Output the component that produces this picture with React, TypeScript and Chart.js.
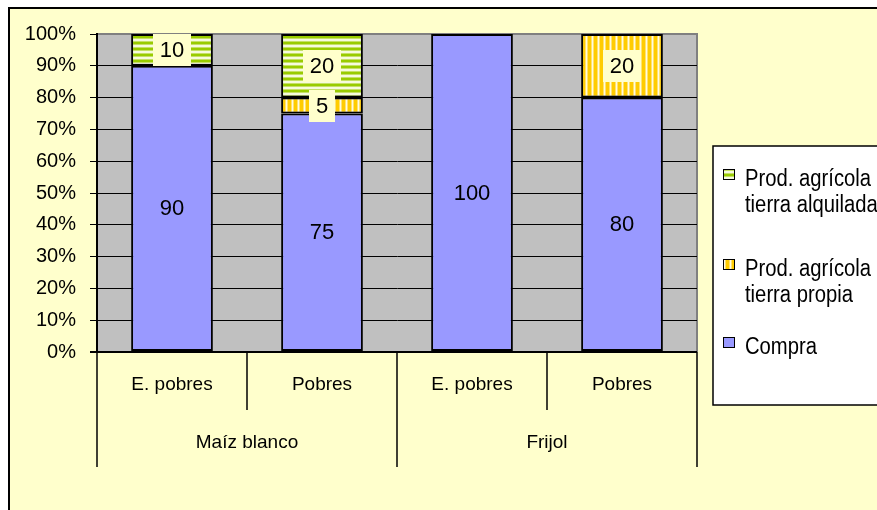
import React, { useEffect, useRef } from "react";
import { Chart, registerables } from "chart.js";

Chart.register(...registerables);

// ---- data ----
const categories = ["E. pobres", "Pobres", "E. pobres", "Pobres"];
const groups = ["Maíz blanco", "Frijol"];
const groupSizes = [2, 2];
const compra = [90, 75, 100, 80];
const prodPropia = [0, 5, 0, 20];
const prodAlquilada = [10, 20, 0, 0];
const seriesNames = ["Compra", "Prod. agrícola tierra propia", "Prod. agrícola tierra alquilada"];
const legendLines = [["Compra"], ["Prod. agrícola", "tierra propia"], ["Prod. agrícola", "tierra alquilada"]];
const yMax = 100;
const yStep = 10;

// ---- style ----
const FONT = '"Liberation Sans", Arial, sans-serif';
const BLUE = "#9999FF";
const BG = "#FFFFCC";
const PLOT = "#C0C0C0";

function makePattern(kind: "h" | "v"): CanvasPattern | string {
  const c = document.createElement("canvas");
  c.width = 6;
  c.height = 6;
  const g = c.getContext("2d");
  if (!g) return kind === "h" ? "#99CC00" : "#FFCC00";
  const cols =
    kind === "h"
      ? ["#99CC00", "#99CC00", "#C6E066", "#F6FBDD", "#F6FBDD", "#C6E066"]
      : ["#FFCC00", "#FFCC00", "#FFCC00", "#FFE270", "#FFFBE0", "#FFE270"];
  for (let i = 0; i < 6; i++) {
    g.fillStyle = cols[i];
    if (kind === "h") g.fillRect(0, i, 6, 1);
    else g.fillRect(i, 0, 1, 6);
  }
  const p = g.createPattern(c, "repeat");
  return p || (kind === "h" ? "#99CC00" : "#FFCC00");
}

export default function App() {
  const ref = useRef<HTMLCanvasElement>(null);

  useEffect(() => {
    const canvas = ref.current;
    if (!canvas) return;
    const green = makePattern("h");
    const yellow = makePattern("v");
    const fills: any[] = [BLUE, yellow, green];
    const values = [compra, prodPropia, prodAlquilada];
    const labelBoxed = [false, true, true];
    const legendTops = [337, 259, 169];

    const decor = {
      id: "decor",
      beforeDraw(chart: any) {
        const ctx = chart.ctx as CanvasRenderingContext2D;
        const a = chart.chartArea;
        ctx.save();
        ctx.fillStyle = "#FFFFFF";
        ctx.fillRect(0, 0, chart.width, chart.height);
        ctx.fillStyle = BG;
        ctx.fillRect(9, 8, chart.width + 20, chart.height + 20);
        ctx.strokeStyle = "#000";
        ctx.lineWidth = 2;
        ctx.strokeRect(9, 8, chart.width + 50, chart.height + 50);
        ctx.fillStyle = PLOT;
        ctx.fillRect(a.left, a.top, a.right - a.left, a.bottom - a.top);
        ctx.strokeStyle = "#808080";
        ctx.lineWidth = 2;
        ctx.beginPath();
        ctx.moveTo(a.left, a.top);
        ctx.lineTo(a.right, a.top);
        ctx.lineTo(a.right, a.bottom);
        ctx.stroke();
        ctx.restore();
      },
      afterDatasetsDraw(chart: any) {
        const ctx = chart.ctx as CanvasRenderingContext2D;
        ctx.save();
        ctx.font = `22px ${FONT}`;
        ctx.textAlign = "center";
        ctx.textBaseline = "middle";
        chart.data.datasets.forEach((ds: any, di: number) => {
          const meta = chart.getDatasetMeta(di);
          meta.data.forEach((el: any, i: number) => {
            const v = ds.data[i];
            if (!v) return;
            const p = el.getProps(["x", "y", "base"], true);
            const cy = (p.y + p.base) / 2;
            const txt = String(v);
            if (labelBoxed[di]) {
              const w = ctx.measureText(txt).width + 14;
              ctx.fillStyle = BG;
              ctx.fillRect(Math.round(p.x - w / 2), Math.round(cy - 16), Math.round(w), 32);
            }
            ctx.fillStyle = "#000";
            ctx.fillText(txt, p.x, cy + 1);
          });
        });
        ctx.restore();
      },
      afterDraw(chart: any) {
        const ctx = chart.ctx as CanvasRenderingContext2D;
        const a = chart.chartArea;
        const x = chart.scales.x;
        ctx.save();
        // multi-level category axis
        ctx.strokeStyle = "#000";
        ctx.lineWidth = 1.5;
        const groupStarts: number[] = [];
        let acc = 0;
        groupSizes.forEach((s) => {
          groupStarts.push(acc);
          acc += s;
        });
        for (let i = 0; i <= categories.length; i++) {
          const bx = Math.round(x.getPixelForValue(i - 0.5));
          const long = i === categories.length || groupStarts.includes(i);
          ctx.beginPath();
          ctx.moveTo(bx, a.bottom);
          ctx.lineTo(bx, a.bottom + (long ? 115 : 58));
          ctx.stroke();
        }
        ctx.fillStyle = "#000";
        ctx.textAlign = "center";
        ctx.textBaseline = "middle";
        ctx.font = `19px ${FONT}`;
        categories.forEach((c, i) => {
          ctx.fillText(c, x.getPixelForValue(i), a.bottom + 33);
        });
        groups.forEach((g, gi) => {
          const s = groupStarts[gi];
          const e = s + groupSizes[gi] - 1;
          const cx = (x.getPixelForValue(s - 0.5) + x.getPixelForValue(e + 0.5)) / 2;
          ctx.fillText(g, cx, a.bottom + 91);
        });
        // legend
        const lx = 713;
        const ly = 146;
        ctx.fillStyle = "#FFFFFF";
        ctx.fillRect(lx, ly, chart.width, 405 - ly);
        ctx.strokeStyle = "#000";
        ctx.lineWidth = 1.5;
        ctx.strokeRect(lx, ly, chart.width, 405 - ly);
        ctx.font = `23px ${FONT}`;
        ctx.textAlign = "left";
        ctx.textBaseline = "alphabetic";
        for (let si = seriesNames.length - 1; si >= 0; si--) {
          const top = legendTops[si];
          ctx.fillStyle = fills[si];
          ctx.fillRect(723, top, 12, 11);
          ctx.strokeStyle = "#000";
          ctx.lineWidth = 1;
          ctx.strokeRect(723.5, top + 0.5, 11, 10);
          ctx.fillStyle = "#000";
          legendLines[si].forEach((ln, li) => {
            ctx.save();
            ctx.translate(745, top + 17 + li * 26);
            ctx.scale(0.88, 1);
            ctx.fillText(ln, 0, 0);
            ctx.restore();
          });
        }
        ctx.restore();
      },
    };

    const chart = new Chart(canvas, {
      type: "bar",
      data: {
        labels: categories,
        datasets: values.map((d, i) => ({
          label: seriesNames[i],
          data: d,
          backgroundColor: fills[i],
          borderColor: "#000",
          borderWidth: (c: any) => (c.raw ? 2 : 0),
          borderSkipped: false,
          barPercentage: 0.545,
          categoryPercentage: 1,
        })),
      },
      options: {
        responsive: false,
        animation: false,
        devicePixelRatio: 1,
        layout: { padding: { left: 0, top: 34, right: 180, bottom: 158 } },
        plugins: { legend: { display: false }, tooltip: { enabled: false } },
        scales: {
          x: { stacked: true, display: false },
          y: {
            stacked: true,
            min: 0,
            max: yMax,
            afterFit: (s: any) => {
              s.width = 97;
            },
            ticks: {
              stepSize: yStep,
              callback: (v: any) => v + "%",
              color: "#000",
              font: { family: FONT, size: 20 },
              padding: 14,
            },
            grid: {
              color: (c: any) => (c.tick && c.tick.value === yMax ? "#808080" : "#000"),
              lineWidth: (c: any) => (c.tick && c.tick.value === 0 ? 2 : 1),
              tickColor: "#000",
              tickLength: 7,
              drawTicks: true,
            },
            border: { display: true, color: "#000", width: 2 },
          },
        },
      } as any,
      plugins: [decor],
    });
    return () => chart.destroy();
  }, []);

  return (
    <div style={{ position: "absolute", left: 0, top: 0, width: 877, height: 510 }}>
      <canvas ref={ref} width={877} height={510} style={{ display: "block" }} />
    </div>
  );
}
